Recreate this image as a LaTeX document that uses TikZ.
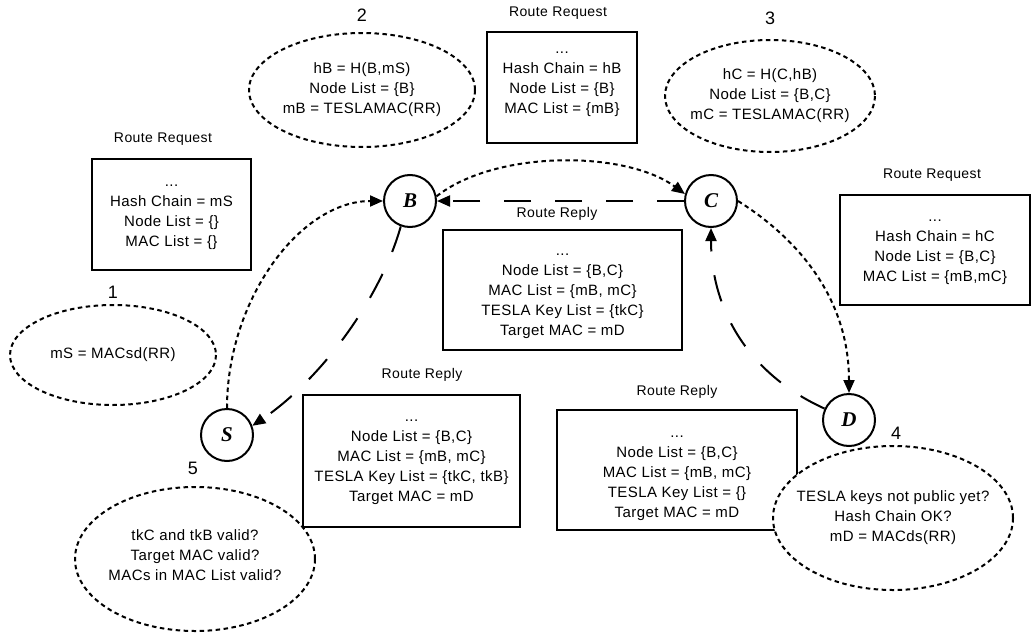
\documentclass[tikz,border=0pt]{standalone}
\usepackage{fontspec}
\setmainfont{Liberation Sans}[LetterSpace=3]
\newfontfamily\nodefont{Liberation Serif}
\usetikzlibrary{arrows.meta}
\begin{document}
\begin{tikzpicture}[x=1pt,y=-1pt,
  txt/.style={font=\fontsize{15}{20}\selectfont, align=center, inner sep=0pt},
  msgbox/.style={draw, line width=2.2pt, fill=white, inner sep=0pt},
  lbl/.style={font=\fontsize{14}{16}\selectfont, inner sep=0pt},
  num/.style={font=\fontsize{18}{20}\selectfont, inner sep=0pt},
  host/.style={circle, draw, line width=2pt, minimum size=52pt, inner sep=0pt, fill=white,
    font=\nodefont\bfseries\itshape\fontsize{21}{21}\selectfont},
  dotline/.style={line width=2pt, dash pattern=on 4.5pt off 3.5pt},
  longdash/.style={line width=2pt, dash pattern=on 27pt off 24pt},
  >={Triangle[length=13pt,width=11pt]}]
\useasboundingbox (0,0) rectangle (1033,637);

% Message boxes
\node[msgbox, minimum width=159pt, minimum height=111pt] (rq1) at (171.5,214.5) {};
\node[txt] (rq1t) at (171.5,212)
  {...\strut\\Hash Chain = mS\\Node List = \{\}\\MAC List = \{\}\strut};
\node[lbl] (rq1l) at (163,139) {Route Request};

\node[msgbox, minimum width=150pt, minimum height=111pt] (rq2) at (562,87.5) {};
\node[txt] (rq2t) at (562,79.5)
  {...\strut\\Hash Chain = hB\\Node List = \{B\}\\MAC List = \{mB\}\strut};
\node[lbl] (rq2l) at (558,13) {Route Request};

\node[msgbox, minimum width=190pt, minimum height=110pt] (rq3) at (935,250) {};
\node[txt] (rq3t) at (935,247)
  {...\strut\\Hash Chain = hC\\Node List = \{B,C\}\\MAC List = \{mB,mC\}\strut};
\node[lbl] (rq3l) at (932,175) {Route Request};

\node[msgbox, minimum width=239pt, minimum height=120pt] (rp1) at (562.5,290) {};
\node[txt] (rp1t) at (562.5,291)
  {...\strut\\Node List = \{B,C\}\\MAC List = \{mB, mC\}\\TESLA Key List = \{tkC\}\\Target MAC = mD\strut};
\node[lbl] (rp1l) at (557,214) {Route Reply};

\node[msgbox, minimum width=217pt, minimum height=132pt] (rp2) at (411.5,461) {};
\node[txt] (rp2t) at (411.5,457)
  {...\strut\\Node List = \{B,C\}\\MAC List = \{mB, mC\}\\TESLA Key List = \{tkC, tkB\}\\Target MAC = mD\strut};
\node[lbl] (rp2l) at (422,375) {Route Reply};

\node[msgbox, minimum width=240pt, minimum height=120pt] (rp3) at (677,470) {};
\node[txt] (rp3t) at (677,473)
  {...\strut\\Node List = \{B,C\}\\MAC List = \{mB, mC\}\\TESLA Key List = \{\}\\Target MAC = mD\strut};
\node[lbl] (rp3l) at (677,392) {Route Reply};

% Computation ellipses
\coordinate (c1) at (113,355);
\draw[dotline, fill=white] (c1) ellipse [x radius=103, y radius=50];
\node[txt] (e1) at (c1) {mS = MACsd(RR)};
\node[num] (n1) at (113,292) {1};

\coordinate (c2) at (362,90);
\draw[dotline, fill=white] (c2) ellipse [x radius=113, y radius=57];
\node[txt] (e2) at (c2) {hB = H(B,mS)\\Node List = \{B\}\\mB = TESLAMAC(RR)};
\node[num] (n2) at (362,15) {2};

\coordinate (c3) at (770,96);
\draw[dotline, fill=white] (c3) ellipse [x radius=105, y radius=56];
\node[txt] (e3) at (c3) {hC = H(C,hB)\\Node List = \{B,C\}\\mC = TESLAMAC(RR)};
\node[num] (n3) at (770,18) {3};

\coordinate (c4) at (893,518);
\draw[dotline, fill=white] (c4) ellipse [x radius=120, y radius=72];
\node[txt] (e4) at (c4) {TESLA keys not public yet?\\Hash Chain OK?\\mD = MACds(RR)};
\node[num] (n4) at (896,433) {4};

\coordinate (c5) at (195,559);
\draw[dotline, fill=white] (c5) ellipse [x radius=120, y radius=72];
\node[txt] (e5) at (195,555) {tkC and tkB valid?\\Target MAC valid?\\MACs in MAC List valid?};
\node[num] (n5) at (193,468) {5};

% Hosts
\node[host] (S) at (227,435) {S};
\node[host] (B) at (410,201) {B};
\node[host] (C) at (711,201) {C};
\node[host] (D) at (849,420) {D};

% Connectors
\draw[dotline,->] (S.north) .. controls (227,300) and (300,201) .. (B.west);
\draw[dotline,->] (B.10) .. controls (495,150) and (625,150) .. (C.165);
\draw[dotline,->] (C.east) .. controls (800,240) and (849,300) .. (D.north);
\draw[longdash,->] (C.west) -- (B.east);
\draw[longdash,->] (D.155) .. controls (740,370) and (711,300) .. (C.south);
\draw[longdash,->] (B.250) .. controls (380,300) and (320,380) .. (S.20);
\end{tikzpicture}
\end{document}
